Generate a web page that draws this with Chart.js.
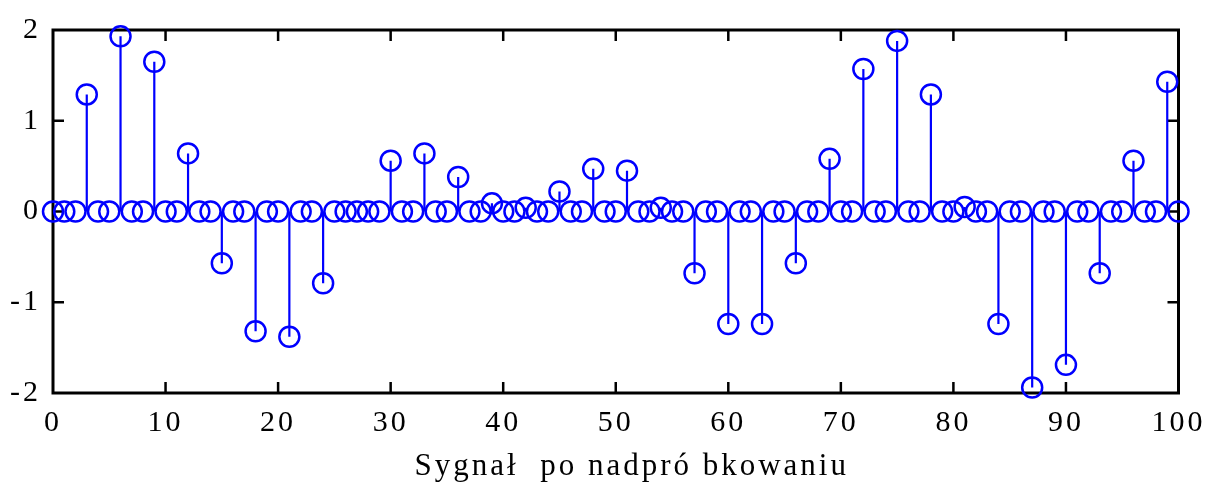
<!DOCTYPE html>
<html>
<head>
<meta charset="utf-8">
<script src="https://cdn.jsdelivr.net/npm/chart.js@4/dist/chart.umd.min.js"></script>
<style>
html, body { margin: 0; padding: 0; background: #fff; }
</style>
</head>
<body>
<canvas id="chart" width="1213" height="483"></canvas>
<script>
// sample index (n) and upsampled signal value
const sampleIdx = [
  0, 1, 2, 3, 4, 5, 6, 7, 8, 9, 10, 11, 12, 13, 14, 15, 16, 17, 18, 19,
  20, 21, 22, 23, 24, 25, 26, 27, 28, 29, 30, 31, 32, 33, 34, 35, 36, 37, 38, 39,
  40, 41, 42, 43, 44, 45, 46, 47, 48, 49, 50, 51, 52, 53, 54, 55, 56, 57, 58, 59,
  60, 61, 62, 63, 64, 65, 66, 67, 68, 69, 70, 71, 72, 73, 74, 75, 76, 77, 78, 79,
  80, 81, 82, 83, 84, 85, 86, 87, 88, 89, 90, 91, 92, 93, 94, 95, 96, 97, 98, 99, 100
];
const signal = [
  0, 0, 0, 1.29, 0, 0, 1.93, 0, 0, 1.65, 0, 0, 0.64, 0, 0, -0.57, 0, 0, -1.32, 0,
  0, -1.38, 0, 0, -0.79, 0, 0, 0, 0, 0, 0.56, 0, 0, 0.64, 0, 0, 0.38, 0, 0, 0.09,
  0, 0, 0.04, 0, 0, 0.22, 0, 0, 0.47, 0, 0, 0.45, 0, 0, 0.04, 0, 0, -0.68, 0, 0,
  -1.24, 0, 0, -1.24, 0, 0, -0.57, 0, 0, 0.58, 0, 0, 1.57, 0, 0, 1.88, 0, 0, 1.29, 0,
  0, 0.05, 0, 0, -1.24, 0, 0, -1.94, 0, 0, -1.69, 0, 0, -0.68, 0, 0, 0.56, 0, 0, 1.43, 0
];
const xTicks = [0, 10, 20, 30, 40, 50, 60, 70, 80, 90, 100];
const yTicks = [-2, -1, 0, 1, 2];
const xLabel = "Sygnał  po nadpró bkowaniu";

const BLUE = "#0000ff";
const FONT = "'Liberation Serif', 'Times New Roman', serif";

// stems, box with inward ticks and the x label, placed from the chart scales
const stemPlugin = {
  id: "stems",
  beforeDraw(chart) {
    chart.ctx.letterSpacing = "3px";
  },
  beforeDatasetsDraw(chart) {
    const { ctx, chartArea: a, scales: { x, y } } = chart;
    ctx.save();

    // frame
    ctx.strokeStyle = "#000";
    ctx.lineWidth = 3;
    ctx.strokeRect(a.left, a.top, a.right - a.left, a.bottom - a.top);

    // inward ticks on all four sides
    const tl = 11;
    ctx.lineWidth = 2.5;
    ctx.beginPath();
    xTicks.forEach(v => {
      if (v === x.min || v === x.max) return;
      const px = x.getPixelForValue(v);
      ctx.moveTo(px, a.bottom); ctx.lineTo(px, a.bottom - tl);
      ctx.moveTo(px, a.top); ctx.lineTo(px, a.top + tl);
    });
    yTicks.forEach(v => {
      if (v === y.min || v === y.max) return;
      const py = y.getPixelForValue(v);
      ctx.moveTo(a.left, py); ctx.lineTo(a.left + tl, py);
      ctx.moveTo(a.right, py); ctx.lineTo(a.right - tl, py);
    });
    ctx.stroke();

    // stems
    ctx.strokeStyle = BLUE;
    ctx.lineWidth = 2.2;
    ctx.beginPath();
    const y0 = y.getPixelForValue(0);
    sampleIdx.forEach((n, i) => {
      if (signal[i] === 0) return;
      const px = x.getPixelForValue(n);
      ctx.moveTo(px, y0);
      ctx.lineTo(px, y.getPixelForValue(signal[i]));
    });
    ctx.stroke();

    // axis label
    ctx.fillStyle = "#000";
    ctx.font = "31px " + FONT;
    ctx.textAlign = "center";
    ctx.textBaseline = "alphabetic";
    ctx.fillText(xLabel, (a.left + a.right) / 2 + 16, 475);
    ctx.restore();
  }
};

new Chart(document.getElementById("chart"), {
  type: "scatter",
  data: {
    datasets: [{
      data: sampleIdx.map((n, i) => ({ x: n, y: signal[i] })),
      pointStyle: "circle",
      pointRadius: 10,
      pointBorderWidth: 2.5,
      pointBorderColor: BLUE,
      pointBackgroundColor: "rgba(0,0,0,0)",
      showLine: false,
      clip: false
    }]
  },
  options: {
    responsive: false,
    animation: false,
    devicePixelRatio: 1,
    layout: { padding: { left: 0, right: 29, top: 28, bottom: 0 } },
    plugins: { legend: { display: false }, tooltip: { enabled: false } },
    scales: {
      x: {
        type: "linear",
        min: 0,
        max: 100,
        afterBuildTicks: s => { s.ticks = xTicks.map(v => ({ value: v })); },
        afterFit: s => { s.height = 90; },
        grid: { display: false, drawTicks: false },
        border: { display: false },
        ticks: {
          color: "#000",
          padding: 12,
          maxRotation: 0,
          autoSkip: false,
          font: { family: FONT, size: 30 }
        }
      },
      y: {
        type: "linear",
        min: -2,
        max: 2,
        afterBuildTicks: s => { s.ticks = yTicks.map(v => ({ value: v })); },
        afterFit: s => { s.width = 53; },
        grid: { display: false, drawTicks: false },
        border: { display: false },
        ticks: {
          color: "#000",
          padding: 12,
          font: { family: FONT, size: 30 }
        }
      }
    }
  },
  plugins: [stemPlugin]
});
</script>
</body>
</html>
